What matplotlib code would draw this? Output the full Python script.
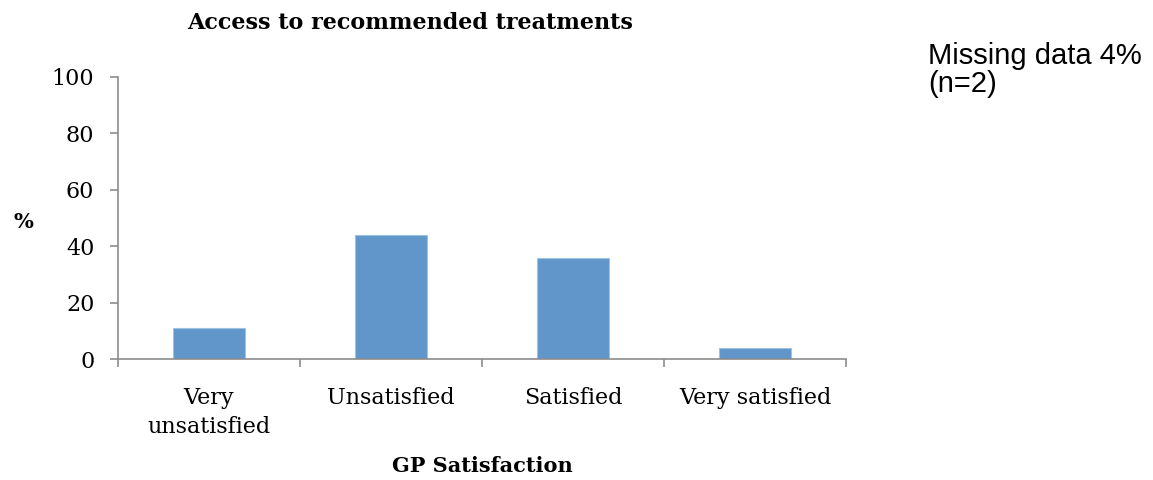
import matplotlib.pyplot as plt
import numpy as np

categories = ['Very\nunsatisfied', 'Unsatisfied', 'Satisfied', 'Very satisfied']
values = [11, 44, 36, 4]
yticks = [0, 20, 40, 60, 80, 100]

title = 'Access to recommended treatments'
xlabel = 'GP Satisfaction'
ylabel = '%'
note = 'Missing data 4%\n(n=2)'


def main():
    plt.rcParams['font.family'] = ['DejaVu Serif']
    fig = plt.figure(figsize=(11.53, 4.8), dpi=100)
    ax = fig.add_axes([0.1023, 0.252, 0.6314, 0.5876])

    x = np.arange(len(categories))
    ax.bar(x, values, width=0.4, color='#6096c9', edgecolor='#9fc2e3', linewidth=0.8, zorder=2)

    ax.set_xlim(-0.5, len(categories) - 0.5)
    ax.set_ylim(0, 100)
    ax.set_yticks(yticks)
    ax.set_xticks(x)
    ax.set_xticklabels(categories, linespacing=1.45)
    ax.set_xticks(np.arange(-0.5, len(categories)), minor=True)

    gray = '#8c8c8c'
    for s in ['top', 'right']:
        ax.spines[s].set_visible(False)
    for s in ['left', 'bottom']:
        ax.spines[s].set_color(gray)
        ax.spines[s].set_linewidth(1.2)
    ax.tick_params(axis='y', direction='out', length=6, width=1.2, color=gray,
                   labelsize=16, pad=11)
    ax.tick_params(axis='x', which='major', length=0, labelsize=16, pad=20)
    ax.tick_params(axis='x', which='minor', direction='out', length=6, width=1.2, color=gray)

    fig.text(0.356, 0.952, title, ha='center', va='center', fontsize=16, fontweight='bold')
    fig.text(0.418, 0.03, xlabel, ha='center', va='center', fontsize=15, fontweight='bold')
    fig.text(0.02, 0.537, ylabel, ha='center', va='center', fontsize=15, fontweight='bold')
    fig.text(0.805, 0.913, note, ha='left', va='top', fontsize=21,
             family=['Liberation Sans', 'DejaVu Sans'], linespacing=1.0)

    fig.savefig('out.png', dpi=100)


if __name__ == "__main__":
    main()
